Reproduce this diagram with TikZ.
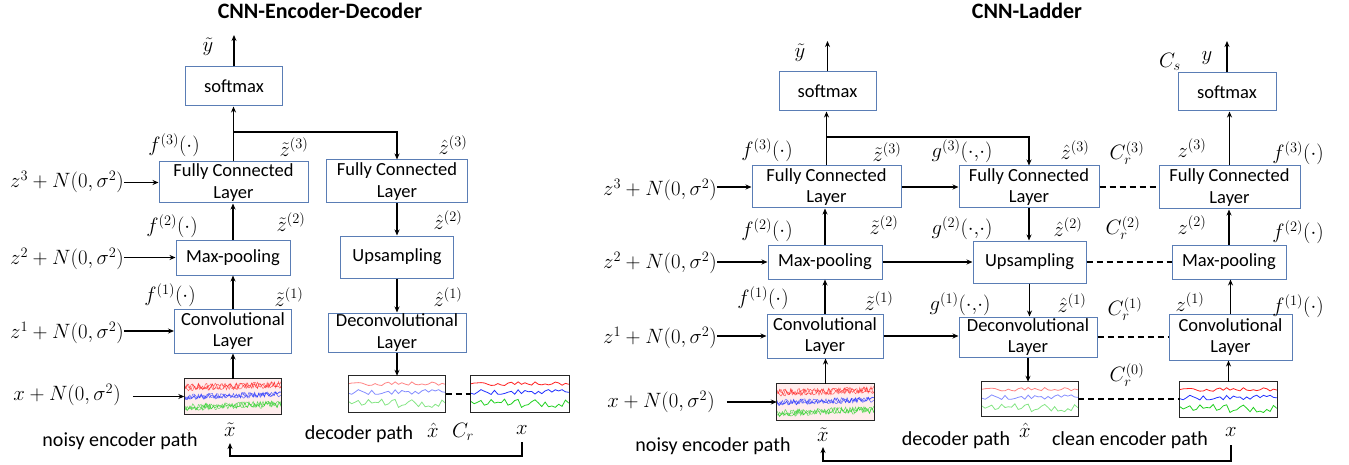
\documentclass[tikz,border=0pt]{standalone}
\usepackage{fontspec}
\setmainfont{Carlito}
\usetikzlibrary{arrows.meta}
\definecolor{boxblue}{HTML}{5A7DB5}
\definecolor{sigred}{HTML}{FF2020}
\definecolor{sigblue}{HTML}{2030FF}
\definecolor{siggreen}{HTML}{20D020}

\newcommand\sigs[4]{%
 \begin{scope}[shift={(#1.north west)}]
 \clip (0,0) rectangle (#2,#3);
 \pgfmathsetseed{11}
 \draw[sigred,#4] plot[domain=0:#2,samples=30] (\x,{0.22*#3+0.06*#3*rand});
 \pgfmathsetseed{12}
 \draw[sigblue,#4] plot[domain=0:#2,samples=30] (\x,{0.45*#3+0.07*#3*rand});
 \pgfmathsetseed{13}
 \draw[siggreen,#4] plot[domain=0:#2,samples=30] (\x,{0.76*#3+0.12*#3*rand});
 \end{scope}
 \draw[line width=1pt,black!85] (#1.north west) rectangle (#1.south east);
}
\newcommand\noisysig[3]{%
 \begin{scope}[shift={(#1.north west)}]
 \clip (0,0) rectangle (#2,#3);
 \fill[red!7] (0,0) rectangle (#2,#3);
 \pgfmathsetseed{21}
 \foreach \k in {1,2,3} {
 \draw[sigred,line width=0.5pt,opacity=0.7] plot[domain=0:#2,samples=70] (\x,{0.25*#3-0.08*#3*\x/#2+0.1*#3*rand});
 \draw[sigblue,line width=0.5pt,opacity=0.7] plot[domain=0:#2,samples=70] (\x,{0.52*#3-0.08*#3*\x/#2+0.08*#3*rand});
 \draw[siggreen,line width=0.5pt,opacity=0.7] plot[domain=0:#2,samples=70] (\x,{0.82*#3-0.1*#3*\x/#2+0.1*#3*rand});
 }
 \end{scope}
 \draw[line width=1pt,black!85] (#1.north west) rectangle (#1.south east);
}

\begin{document}
\begin{tikzpicture}[x=1pt,y=-1pt,
 box/.style={draw=boxblue, line width=1pt, align=center, font=\fontsize{18.5}{21.5}\selectfont, inner sep=0pt},
 imgbox/.style={inner sep=0pt},
 lbl/.style={font=\fontsize{21}{23}\selectfont, inner sep=0pt},
 pathlbl/.style={font=\fontsize{20}{22}\selectfont, inner sep=0pt},
 ttl/.style={font=\fontsize{22}{24}\selectfont\bfseries, inner sep=0pt},
 arr/.style={-{Stealth[length=6pt,width=5pt]}, line width=1.1pt},
 dashln/.style={dash pattern=on 6pt off 4pt, line width=1.1pt}]
\useasboundingbox (0,0) rectangle (1349,465);

% ================= LEFT: CNN-Encoder-Decoder =================
\node[ttl] (title1) at (320,11) {CNN-Encoder-Decoder};

\node[box, minimum width=97, minimum height=39] (softmaxL) at (234,86.5) {softmax};
\node[box, minimum width=149, minimum height=41] (fcL) at (233.5,182.5) {Fully Connected\\Layer};
\node[box, minimum width=141, minimum height=43] (fcLd) at (397,181.5) {Fully Connected\\Layer};
\node[box, minimum width=114, minimum height=35] (mpL) at (233,257.5) {Max-pooling};
\node[box, minimum width=113, minimum height=42] (upL) at (397,257) {Upsampling};
\node[box, minimum width=117, minimum height=44] (convL) at (233,331) {Convolutional\\Layer};
\node[box, minimum width=138, minimum height=39] (deconvL) at (397,332.5) {Deconvolutional\\Layer};
\node[imgbox, minimum width=97, minimum height=35] (noisyL) at (233,396.5) {};
\node[imgbox, minimum width=97, minimum height=36] (decoutL) at (397,394) {};
\node[imgbox, minimum width=98, minimum height=36] (cleanL) at (520,394) {};
\noisysig{noisyL}{97}{35}
\sigs{decoutL}{97}{36}{line width=0.8pt,opacity=0.55}
\sigs{cleanL}{98}{36}{line width=0.8pt}

\node[lbl] (ytL) at (208,47) {$\tilde{y}$};
\node[lbl] (f3L) at (174,145) {$f^{(3)}(\cdot)$};
\node[lbl] (zt3L) at (294,147) {$\tilde{z}^{(3)}$};
\node[lbl] (zh3L) at (453,145) {$\hat{z}^{(3)}$};
\node[lbl] (z3L) at (67,182) {$z^3+N(0,\sigma^2)$};
\node[lbl] (f2L) at (172,226) {$f^{(2)}(\cdot)$};
\node[lbl] (zt2L) at (291,222) {$\tilde{z}^{(2)}$};
\node[lbl] (zh2L) at (448,220) {$\hat{z}^{(2)}$};
\node[lbl] (z2L) at (67,259) {$z^2+N(0,\sigma^2)$};
\node[lbl] (f1L) at (170,295) {$f^{(1)}(\cdot)$};
\node[lbl] (zt1L) at (289,297) {$\tilde{z}^{(1)}$};
\node[lbl] (zh1L) at (448,297) {$\hat{z}^{(1)}$};
\node[lbl] (z1L) at (67,333) {$z^1+N(0,\sigma^2)$};
\node[lbl] (xnL) at (67,395) {$x+N(0,\sigma^2)$};
\node[lbl] (xtL) at (230,430) {$\tilde{x}$};
\node[pathlbl] (noisyPathL) at (120,441) {noisy encoder path};
\node[pathlbl] (decPathL) at (359,434) {decoder path};
\node[lbl] (xhL) at (433,430) {$\hat{x}$};
\node[lbl] (CrL) at (463,432) {$C_r$};
\node[lbl] (xL) at (522,430) {$x$};

% encoder arrows
\draw[arr] (noisyL.north) -- (noisyL.north |- convL.south);
\draw[arr] (convL.north) -- (convL.north |- mpL.south);
\draw[arr] (mpL.north) -- (mpL.north |- fcL.south);
\draw[arr] (fcL.north) -- (fcL.north |- softmaxL.south);
\coordinate (ytopL) at (234,35);
\draw[arr] (softmaxL.north) -- (softmaxL.north |- ytopL);
\coordinate (brL) at (233.5,132);
\draw[arr] (brL) -| (fcLd.north);
% input arrows
\draw[arr] (fcL.west -| z3L.east) -- (fcL.west);
\draw[arr] (mpL.west -| z2L.east) -- (mpL.west);
\draw[arr] (convL.west -| z1L.east) -- (convL.west);
\draw[arr] ([xshift=12pt]noisyL.west -| xnL.east) -- (noisyL.west);
% decoder arrows
\draw[arr] (fcLd.south) -- (fcLd.south |- upL.north);
\draw[arr] (upL.south) -- (upL.south |- deconvL.north);
\draw[arr] (deconvL.south) -- (deconvL.south |- decoutL.north);
\draw[dashln] (decoutL.east) -- (decoutL.east -| cleanL.west);
% loop
\coordinate (loopLa) at (522,442);
\coordinate (loopLb) at (230,443);
\draw[arr] (loopLa) -- ++(0,14) -| (loopLb);

% ================= RIGHT: CNN-Ladder =================
\node[ttl] (title2) at (1027,11) {CNN-Ladder};

\node[box, minimum width=97, minimum height=39] (softmaxR1) at (827.5,91.5) {softmax};
\node[box, minimum width=149, minimum height=42] (fcR1) at (826.5,187) {Fully Connected\\Layer};
\node[box, minimum width=114, minimum height=34] (mpR1) at (825,262) {Max-pooling};
\node[box, minimum width=116, minimum height=44] (convR1) at (825,336) {Convolutional\\Layer};
\node[imgbox, minimum width=97, minimum height=36] (noisyR) at (825.5,402) {};

\node[box, minimum width=140, minimum height=42] (fcR2) at (1029,187) {Fully Connected\\Layer};
\node[box, minimum width=113, minimum height=42] (upR2) at (1029.5,262) {Upsampling};
\node[box, minimum width=138, minimum height=40] (deconvR2) at (1028,337) {Deconvolutional\\Layer};
\node[imgbox, minimum width=96, minimum height=34] (decoutR) at (1030,399) {};

\node[box, minimum width=98, minimum height=38] (softmaxR3) at (1227,92) {softmax};
\node[box, minimum width=141, minimum height=43] (fcR3) at (1229.5,187.5) {Fully Connected\\Layer};
\node[box, minimum width=114, minimum height=34] (mpR3) at (1229,262) {Max-pooling};
\node[box, minimum width=123, minimum height=46] (convR3) at (1230.5,337) {Convolutional\\Layer};
\node[imgbox, minimum width=97, minimum height=35] (cleanR) at (1228.5,399.5) {};

\noisysig{noisyR}{97}{36}
\sigs{decoutR}{96}{34}{line width=0.8pt,opacity=0.55}
\sigs{cleanR}{97}{35}{line width=0.8pt}

\node[lbl] (ytR) at (800,53) {$\tilde{y}$};
\node[lbl] (CsR) at (1170,62) {$C_s$};
\node[lbl] (yR) at (1207,58) {$y$};
\node[lbl] (f3R) at (767,150) {$f^{(3)}(\cdot)$};
\node[lbl] (zt3R) at (887,152) {$\tilde{z}^{(3)}$};
\node[lbl] (g3R) at (962,151) {$g^{(3)}(\cdot,\!\cdot)$};
\node[lbl] (zh3R) at (1075,150) {$\hat{z}^{(3)}$};
\node[lbl] (Cr3R) at (1127,153) {$C_r^{(3)}$};
\node[lbl] (z3R) at (1192,148) {$z^{(3)}$};
\node[lbl] (f3R3) at (1298,153) {$f^{(3)}(\cdot)$};
\node[lbl] (z3nR) at (660,190) {$z^3+N(0,\sigma^2)$};
\node[lbl] (f2R) at (767,230) {$f^{(2)}(\cdot)$};
\node[lbl] (zt2R) at (884,225) {$\tilde{z}^{(2)}$};
\node[lbl] (g2R) at (962,228) {$g^{(2)}(\cdot,\!\cdot)$};
\node[lbl] (zh2R) at (1068,227) {$\hat{z}^{(2)}$};
\node[lbl] (Cr2R) at (1123,228) {$C_r^{(2)}$};
\node[lbl] (z2R) at (1192,225) {$z^{(2)}$};
\node[lbl] (f2R3) at (1298,232) {$f^{(2)}(\cdot)$};
\node[lbl] (z2nR) at (660,263) {$z^2+N(0,\sigma^2)$};
\node[lbl] (f1R) at (763,298) {$f^{(1)}(\cdot)$};
\node[lbl] (zt1R) at (879,301) {$\tilde{z}^{(1)}$};
\node[lbl] (g1R) at (960,304) {$g^{(1)}(\cdot,\!\cdot)$};
\node[lbl] (zh1R) at (1072,303) {$\hat{z}^{(1)}$};
\node[lbl] (Cr1R) at (1125,309) {$C_r^{(1)}$};
\node[lbl] (z1R) at (1190,302) {$z^{(1)}$};
\node[lbl] (f1R3) at (1298,306) {$f^{(1)}(\cdot)$};
\node[lbl] (z1nR) at (660,338) {$z^1+N(0,\sigma^2)$};
\node[lbl] (xnR) at (661,402) {$x+N(0,\sigma^2)$};
\node[lbl] (Cr0R) at (1127,375) {$C_r^{(0)}$};
\node[lbl] (xtR) at (823,435) {$\tilde{x}$};
\node[pathlbl] (noisyPathR) at (713,446) {noisy encoder path};
\node[pathlbl] (decPathR) at (956,440) {decoder path};
\node[lbl] (xhR) at (1025,430) {$\hat{x}$};
\node[pathlbl] (cleanPathR) at (1130,440) {clean encoder path};
\node[lbl] (xR) at (1231,432) {$x$};

% noisy encoder
\draw[arr] (noisyR.north) -- (noisyR.north |- convR1.south);
\draw[arr] (convR1.north) -- (convR1.north |- mpR1.south);
\draw[arr] (mpR1.north) -- (mpR1.north |- fcR1.south);
\draw[arr] (fcR1.north) -- (fcR1.north |- softmaxR1.south);
\coordinate (ytopR) at (827,41);
\draw[arr] (softmaxR1.north) -- (softmaxR1.north |- ytopR);
\coordinate (brR) at (827,137);
\draw[arr] (brR) -| (fcR2.north);
\draw[arr] (fcR1.west -| z3nR.east) -- (fcR1.west);
\draw[arr] (mpR1.west -| z2nR.east) -- (mpR1.west);
\draw[arr] (convR1.west -| z1nR.east) -- (convR1.west);
\draw[arr] ([xshift=12pt]noisyR.west -| xnR.east) -- (noisyR.west);
% lateral
\draw[arr] (fcR1.east) -- (fcR1.east -| fcR2.west);
\draw[arr] (mpR1.east) -- (mpR1.east -| upR2.west);
\draw[arr] (convR1.east) -- (convR1.east -| deconvR2.west);
% decoder
\draw[arr] (fcR2.south) -- (fcR2.south |- upR2.north);
\draw[arr] (upR2.south) -- (upR2.south |- deconvR2.north);
\draw[arr] (deconvR2.south) -- (deconvR2.south |- decoutR.north);
% dashed costs
\draw[dashln] (fcR2.east) -- (fcR2.east -| fcR3.west);
\draw[dashln] (upR2.east) -- (upR2.east -| mpR3.west);
\draw[dashln] (deconvR2.east) -- (deconvR2.east -| convR3.west);
\draw[dashln] (decoutR.east) -- (decoutR.east -| cleanR.west);
% clean encoder
\draw[arr] (cleanR.north) -- (cleanR.north |- convR3.south);
\draw[arr] (convR3.north) -- (convR3.north |- mpR3.south);
\draw[arr] (mpR3.north) -- (mpR3.north |- fcR3.south);
\draw[arr] (fcR3.north) -- (fcR3.north |- softmaxR3.south);
\draw[arr] (softmaxR3.north) -- (softmaxR3.north |- ytopR);
% loop
\coordinate (loopRa) at (1231,445);
\coordinate (loopRb) at (823,447);
\draw[arr] (loopRa) -- ++(0,16) -| (loopRb);
\end{tikzpicture}
\end{document}
